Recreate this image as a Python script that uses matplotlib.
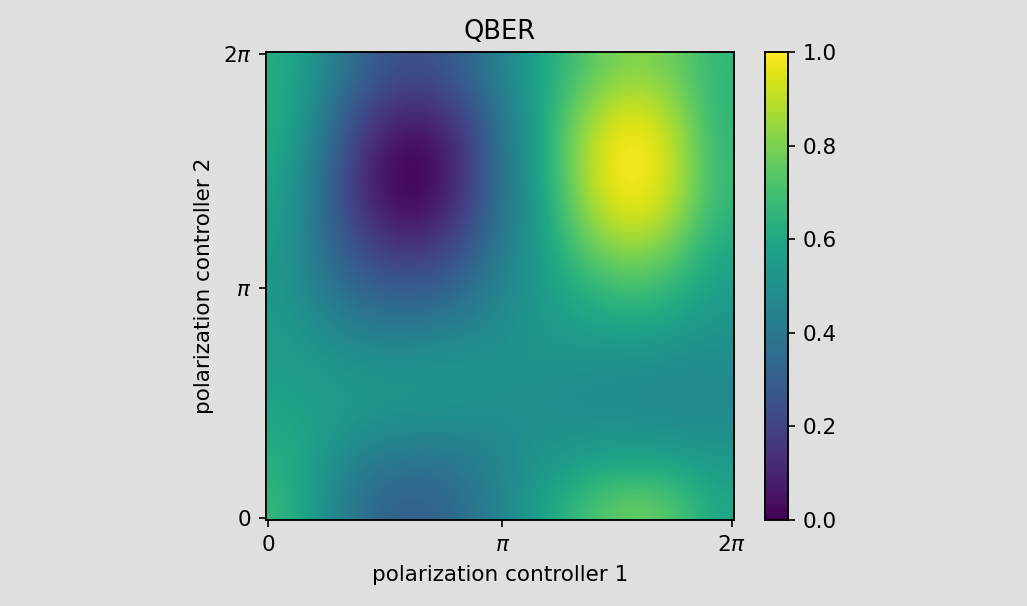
import numpy as np
import matplotlib
matplotlib.use("Agg")
import matplotlib.pyplot as plt

# QBER, top row is 2pi on controller 2
qber = np.array([
    [.62, .49, .34, .25, .24, .31, .44, .57, .69, .79, .82, .76, .66],
    [.62, .45, .26, .14, .13, .22, .40, .57, .75, .89, .93, .82, .65],
    [.60, .41, .19, .05, .03, .15, .37, .56, .79, .97, 1.0, .87, .66],
    [.58, .38, .16, .01, .00, .15, .36, .55, .79, .98, 1.0, .88, .67],
    [.56, .37, .18, .05, .05, .18, .38, .54, .75, .92, .96, .84, .65],
    [.54, .38, .25, .16, .16, .26, .41, .53, .69, .81, .83, .74, .60],
    [.53, .42, .33, .28, .28, .34, .45, .53, .62, .69, .71, .65, .56],
    [.54, .48, .41, .39, .40, .43, .48, .53, .56, .59, .60, .56, .52],
    [.55, .53, .50, .49, .50, .51, .51, .52, .52, .51, .51, .49, .49],
    [.57, .55, .54, .53, .53, .52, .50, .49, .48, .47, .47, .46, .47],
    [.60, .56, .51, .48, .47, .47, .48, .50, .50, .51, .50, .49, .49],
    [.63, .54, .43, .38, .37, .40, .46, .52, .56, .60, .61, .58, .55],
    [.66, .52, .38, .31, .31, .36, .45, .55, .66, .74, .77, .71, .59],
])
# ticks sit on sample indices of a 100 x 100 scan
x_ticks = [0, 50, 99]
y_ticks = [99, 50, 0]
tick_labels = ["0", r"$\pi$", r"$2\pi$"]

plt.rcParams["font.size"] = 10.3
plt.rcParams["axes.linewidth"] = 0.9

fig = plt.figure(figsize=(1027 / 150, 606 / 150), dpi=150, facecolor="#dfdfdf")
ax = fig.add_axes([266 / 1027, 1 - 520 / 606, 468 / 1027, 468 / 606])
im = ax.imshow(qber, cmap="viridis", vmin=0, vmax=1, interpolation="bicubic",
               extent=(-0.5, 99.5, 99.5, -0.5))
ax.set_xticks(x_ticks, tick_labels)
ax.set_yticks(y_ticks, tick_labels)
ax.set_xlabel("polarization controller 1", labelpad=5)
ax.set_ylabel("polarization controller 2")
ax.set_title("QBER")

cax = fig.add_axes([765 / 1027, 1 - 520 / 606, 23 / 1027, 468 / 606])
fig.colorbar(im, cax=cax)

fig.savefig("out.png", dpi=150, facecolor=fig.get_facecolor())
